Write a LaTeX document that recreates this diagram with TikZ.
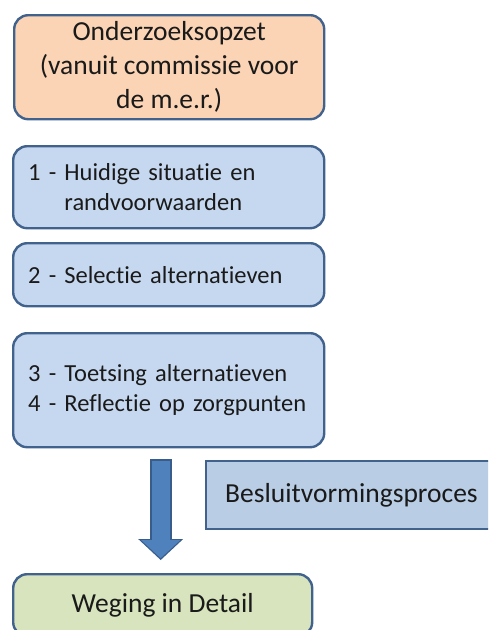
\documentclass[tikz,border=0pt]{standalone}
\usepackage{fontspec}
\setmainfont[Ligatures=NoCommon]{Carlito}
\usetikzlibrary{positioning,arrows.meta,calc}

\definecolor{blokrand}{HTML}{41628D}
\definecolor{oranje}{HTML}{FAD4B5}
\definecolor{lichtblauw}{HTML}{C6D8EF}
\definecolor{grijsblauw}{HTML}{B9CDE5}
\definecolor{lichtgroen}{HTML}{D7E4BD}
\definecolor{pijlvul}{HTML}{4F81BD}
\definecolor{pijlrand}{HTML}{385D8A}
\definecolor{tekst}{HTML}{1A1A1A}

\begin{document}
\begin{tikzpicture}[x=1pt,y=-1pt,
  blok/.style={draw=blokrand,line width=2.4pt,rounded corners=14pt,anchor=north west,text=tekst,inner ysep=0pt},
  groot/.style={font=\fontsize{27.5}{34}\selectfont},
  klein/.style={font=\fontsize{24.5}{30}\selectfont,align=left,text width=281pt,inner xsep=15pt,minimum height=#1},
  pijl/.style={draw=pijlrand,line width=22pt,-{Triangle[width=45pt,length=21pt,line width=0pt]},
    postaction={draw=pijlvul,line width=18pt,-{Triangle[width=39pt,length=18pt,line width=0pt]},shorten >=1.8pt,shorten <=2pt}}]

\path[use as bounding box,clip] (0,0) rectangle (488,630);

\node[blok,groot,fill=oranje,align=center,minimum width=310pt,minimum height=104pt] (opzet) at (13,14)
  {Onderzoeksopzet\\(vanuit commissie voor\\de m.e.r.)};

\node[blok,klein=82pt,fill=lichtblauw] (stap1) at (12,145)
  {1 - Huidige situatie en\\\phantom{1 - }randvoorwaarden};
\node[blok,klein=63pt,fill=lichtblauw] (stap2) at (12,242)
  {2 - Selectie alternatieven};
\node[blok,klein=114pt,fill=lichtblauw] (stap34) at (12,332)
  {3 - Toetsing alternatieven\\4 - Reflectie op zorgpunten};

\node[blok,groot,fill=grijsblauw,rounded corners=0pt,inner xsep=19pt,text width=280pt,minimum height=68pt] (besluit) at (205,460)
  {Besluitvormingsproces};

\node[blok,groot,fill=lichtgroen,align=center,minimum width=299pt,minimum height=62pt] (weging) at (12,573)
  {Weging in Detail};

\coordinate (pijlbegin) at ([xshift=-8pt,yshift=-11pt]stap34.south);
\coordinate (pijleind) at ($(weging.north -| pijlbegin)+(0,-13)$);
\draw[pijl] (pijlbegin) -- (pijleind);

\end{tikzpicture}
\end{document}
